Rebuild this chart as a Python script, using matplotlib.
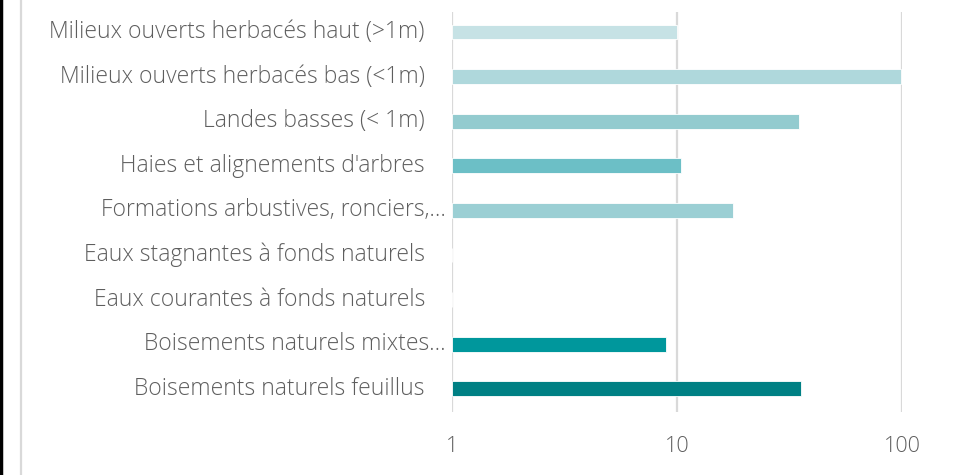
import matplotlib.pyplot as plt
from matplotlib.lines import Line2D
import matplotlib.transforms as mtransforms

plt.rcParams['font.family'] = ['Open Sans', 'DejaVu Sans']

categories = [
    "Milieux ouverts herbacés haut (>1m)",
    "Milieux ouverts herbacés bas (<1m)",
    "Landes basses (< 1m)",
    "Haies et alignements d'arbres",
    "Formations arbustives, ronciers,…",
    "Eaux stagnantes à fonds naturels",
    "Eaux courantes à fonds naturels",
    "Boisements naturels mixtes…",
    "Boisements naturels feuillus",
]
values = [10, 99, 34.7, 10.4, 17.8, 1, 1, 8.9, 35.6]
colors = ["#c6e2e5", "#afd8dc", "#93cbcf", "#6cbfc6", "#9bcfd4",
          "#ffffff", "#ffffff", "#00979c", "#008084"]
xticks = [1, 10, 100]
xticklabels = ["1", "10", "100"]

fig = plt.figure(figsize=(9.54, 4.75), dpi=100)
ax = fig.add_axes([452 / 954, 63 / 475, 450 / 954, 400 / 475])

ypos = list(range(len(categories)))
ax.barh(ypos, [v - 1 for v in values], left=1, height=0.33, color=colors,
        edgecolor="white", linewidth=0.6, zorder=3)

ax.set_xscale("log")
ax.set_xlim(1, 100)
ax.set_ylim(8.52, -0.45)
ax.set_xticks(xticks)
ax.set_xticklabels(xticklabels)
ax.minorticks_off()
ax.tick_params(axis="x", length=0, pad=17, labelsize=15.5, labelcolor="#5e5e5e")
for lbl in ax.get_xticklabels():
    lbl.set_fontweight("light")

# category labels, right aligned; the ellipsis hangs past the common edge
ax.set_yticks([])
trans = mtransforms.blended_transform_factory(ax.transAxes, ax.transData)
for y, name in zip(ypos, categories):
    xpx = 446 if name.endswith("…") else 425
    ax.text((xpx - 452) / 450, y, name, transform=trans, ha="right", va="center",
            fontsize=16.5, color="#5e5e5e", fontweight="light")

ax.grid(axis="x", color="#d9d9d9", linewidth=1.6, zorder=0)
for s in ax.spines.values():
    s.set_visible(False)

# frame edges on the left of the canvas
fig.add_artist(Line2D([1 / 954, 1 / 954], [0, 1], color="black", linewidth=2.5,
                      transform=fig.transFigure))
fig.add_artist(Line2D([21 / 954, 21 / 954], [0, 1], color="#d9d9d9", linewidth=1.6,
                      transform=fig.transFigure))

fig.savefig("out.png", dpi=100, facecolor="white")
